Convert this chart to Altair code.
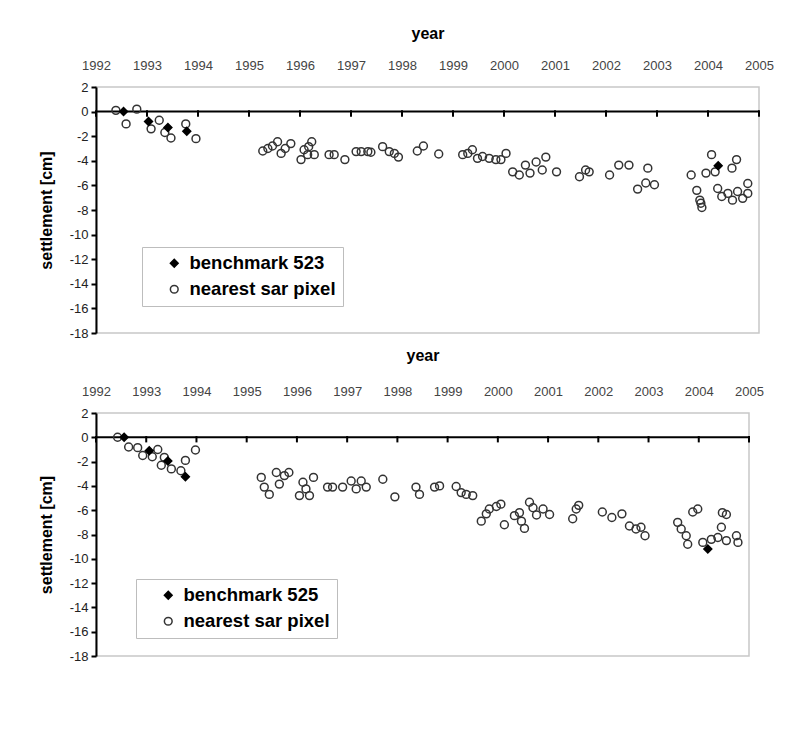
import altair as alt
import pandas as pd

FONT = "Liberation Sans"

year_ticks = list(range(1992, 2006))
y_ticks = list(range(-18, 3, 2))

# ---------- upper panel: benchmark 523 ----------
bm523_year = [1992.54, 1993.03, 1993.41, 1993.78, 2004.20]
bm523_sett = [0.0, -0.8, -1.3, -1.6, -4.4]

sar1_year = [1992.39, 1992.59, 1992.80, 1993.08, 1993.24, 1993.35, 1993.47, 1993.76, 1993.96,
             1995.27, 1995.37, 1995.46, 1995.56, 1995.63, 1995.71, 1995.82,
             1996.02, 1996.08, 1996.15, 1996.17, 1996.23, 1996.28, 1996.57, 1996.67, 1996.88,
             1997.10, 1997.20, 1997.33, 1997.39, 1997.62, 1997.75, 1997.85, 1997.93,
             1998.30, 1998.42, 1998.72,
             1999.19, 1999.29, 1999.38, 1999.48, 1999.58, 1999.71, 1999.84, 1999.94,
             2000.04, 2000.17, 2000.30, 2000.42, 2000.51, 2000.63, 2000.75, 2000.82,
             2001.03, 2001.48, 2001.60, 2001.67,
             2002.07, 2002.25, 2002.45, 2002.62, 2002.78, 2002.82, 2002.95,
             2003.67, 2003.78, 2003.84, 2003.86, 2003.88, 2003.96,
             2004.07, 2004.14, 2004.19, 2004.27, 2004.39, 2004.47, 2004.48, 2004.56,
             2004.58, 2004.68, 2004.78, 2004.78]
sar1_sett = [0.1, -1.0, 0.2, -1.4, -0.7, -1.7, -2.15, -1.0, -2.2,
             -3.2, -3.0, -2.8, -2.45, -3.4, -3.0, -2.6,
             -3.9, -3.1, -3.5, -2.85, -2.45, -3.5, -3.5, -3.5, -3.9,
             -3.25, -3.25, -3.25, -3.3, -2.85, -3.25, -3.4, -3.7,
             -3.2, -2.8, -3.45,
             -3.5, -3.4, -3.1, -3.8, -3.65, -3.8, -3.9, -3.9,
             -3.4, -4.9, -5.15, -4.35, -5.0, -4.1, -4.75, -3.7,
             -4.9, -5.3, -4.75, -4.9,
             -5.15, -4.35, -4.35, -6.3, -5.8, -4.6, -5.95,
             -5.15, -6.4, -7.2, -7.45, -7.8, -5.0,
             -3.5, -4.9, -6.25, -6.9, -6.65, -4.6, -7.2, -3.9,
             -6.5, -7.05, -6.65, -5.85]

# ---------- lower panel: benchmark 525 ----------
bm525_year = [1992.56, 1993.06, 1993.43, 1993.78, 2004.18]
bm525_sett = [0.0, -1.1, -1.95, -3.25, -9.2]

sar2_year = [1992.43, 1992.65, 1992.83, 1992.93, 1993.12, 1993.23, 1993.30, 1993.36, 1993.50,
             1993.69, 1993.78, 1993.98,
             1995.29, 1995.35, 1995.45, 1995.59, 1995.65, 1995.75, 1995.84,
             1996.05, 1996.12, 1996.18, 1996.25, 1996.33, 1996.61, 1996.71, 1996.91,
             1997.08, 1997.18, 1997.28, 1997.38, 1997.71, 1997.95,
             1998.37, 1998.44, 1998.74, 1998.84,
             1999.17, 1999.27, 1999.37, 1999.50, 1999.67, 1999.77, 1999.83, 1999.97,
             2000.06, 2000.13, 2000.33, 2000.43, 2000.47, 2000.53, 2000.63, 2000.70,
             2000.77, 2000.90, 2001.03, 2001.49, 2001.56, 2001.61,
             2002.08, 2002.27, 2002.47, 2002.62, 2002.75, 2002.85, 2002.93,
             2003.58, 2003.65, 2003.75, 2003.78, 2003.88, 2003.98,
             2004.08, 2004.25, 2004.38, 2004.45, 2004.47, 2004.55, 2004.55, 2004.75, 2004.78]
sar2_sett = [0.0, -0.8, -0.85, -1.5, -1.6, -1.0, -2.3, -1.65, -2.6,
             -2.75, -1.9, -1.05,
             -3.3, -4.1, -4.7, -2.9, -3.85, -3.15, -2.9,
             -4.8, -3.7, -4.25, -4.8, -3.3, -4.1, -4.1, -4.1,
             -3.6, -4.25, -3.6, -4.1, -3.45, -4.9,
             -4.1, -4.7, -4.1, -4.0,
             -4.05, -4.55, -4.7, -4.8, -6.9, -6.3, -5.9, -5.7,
             -5.5, -7.2, -6.45, -6.2, -6.9, -7.5, -5.35, -5.8,
             -6.4, -5.9, -6.35, -6.7, -5.9, -5.6,
             -6.15, -6.6, -6.3, -7.3, -7.55, -7.4, -8.1,
             -7.0, -7.55, -8.1, -8.8, -6.15, -5.9,
             -8.65, -8.4, -8.25, -7.4, -6.2, -6.35, -8.5, -8.1, -8.65]

SAR_LABEL = "nearest sar pixel"


def panel(sar_year, sar_sett, bm_year, bm_sett, bm_label, width, height,
          title_pad, legend_x, legend_y):
    df = pd.DataFrame({
        "year": sar_year + bm_year,
        "sett": sar_sett + bm_sett,
        "series": [SAR_LABEL] * len(sar_year) + [bm_label] * len(bm_year),
    })
    dom = [bm_label, SAR_LABEL]
    leg = alt.Legend(
        orient="none", legendX=legend_x, legendY=legend_y, title=None,
        labelFont=FONT, labelFontSize=18.5, labelFontWeight="bold", labelColor="black",
        strokeColor="#bdbdbd", padding=7, rowPadding=7, symbolOffset=16,
        symbolSize=60, symbolStrokeWidth=1.5, labelOffset=6,
    )
    x_axis = alt.Axis(
        orient="top", values=year_ticks, format="d", title="year",
        domain=False, ticks=False, tickSize=0, grid=False,
        labelFlush=False, labelOverlap=False, labelBound=False,
        labelFont=FONT, labelFontSize=13, labelColor="#444444", labelPadding=15,
        titleFont=FONT, titleFontSize=16, titleFontWeight="bold", titleColor="black",
        titlePadding=title_pad,
    )
    y_axis = alt.Axis(
        values=y_ticks, title="settlement [cm]", grid=False,
        labelExpr="'' + datum.value",
        labelFlush=False, labelOverlap=False, labelBound=False,
        domainColor="black", domainWidth=2, tickColor="black", tickWidth=2, tickSize=5,
        labelFont=FONT, labelFontSize=13, labelColor="#222222", labelPadding=3,
        titleFont=FONT, titleFontSize=16, titleFontWeight="bold", titleColor="black",
        titlePadding=15,
    )
    xsc = alt.Scale(domain=[1992, 2005], nice=False, zero=False)
    ysc = alt.Scale(domain=[-18, 2], nice=False, zero=False)

    points = alt.Chart(df).mark_point(size=62, strokeWidth=1.5, opacity=1).encode(
        x=alt.X("year:Q", scale=xsc, axis=x_axis),
        y=alt.Y("sett:Q", scale=ysc, axis=y_axis),
        shape=alt.Shape("series:N", scale=alt.Scale(domain=dom, range=["diamond", "circle"]), legend=leg),
        fill=alt.Fill("series:N", scale=alt.Scale(domain=dom, range=["black", "transparent"]), legend=leg),
        stroke=alt.Stroke("series:N", scale=alt.Scale(domain=dom, range=["black", "#333333"]), legend=leg),
    )
    zero = alt.Chart(pd.DataFrame({"sett": [0]})).mark_rule(color="black", strokeWidth=2).encode(
        y=alt.Y("sett:Q", scale=ysc, axis=y_axis)
    )
    ticks = (
        alt.Chart(pd.DataFrame({"year": year_ticks}))
        .transform_calculate(sett="0.1", sett_end="-0.42")
        .mark_rule(color="black", strokeWidth=2)
        .encode(
            x=alt.X("year:Q", scale=xsc, axis=x_axis),
            y=alt.Y("sett:Q", scale=ysc, axis=y_axis),
            y2=alt.Y2("sett_end:Q"),
        )
    )
    return alt.layer(zero, ticks, points).properties(width=width, height=height)


top = panel(sar1_year, sar1_sett, bm523_year, bm523_sett, "benchmark 523",
            663, 246, 18, 46, 160)
bottom = panel(sar2_year, sar2_sett, bm525_year, bm525_sett, "benchmark 525",
               653, 243, 22, 40, 166)

chart = (
    alt.vconcat(top, bottom, spacing=5)
    .resolve_scale(shape="independent", fill="independent", stroke="independent")
    .resolve_legend(shape="independent", fill="independent", stroke="independent")
    .properties(
        padding={"left": 37, "top": 24, "right": 5, "bottom": 5},
        background="white",
    )
    .configure_view(stroke="#c8c8c8", strokeWidth=1.5)
    .configure_axis(labelOverlap=False)
)

chart.save("out.html", embed_options={"renderer": "svg", "actions": False})
